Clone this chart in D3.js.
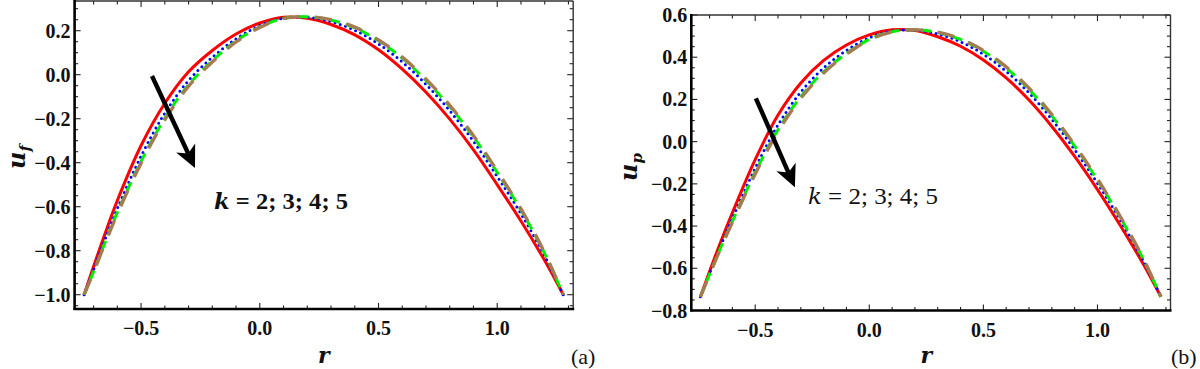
<!DOCTYPE html>
<html>
<head>
<meta charset="utf-8">
<script src="https://cdn.jsdelivr.net/npm/d3@7"></script>
<style>
  html, body { margin: 0; padding: 0; background: #fff; }
  svg { display: block; }
  .serif { font-family: "Liberation Serif", "Times New Roman", Tinos, serif; }
  .ital { font-family: "DejaVu Serif", serif; font-style: italic; }
</style>
</head>
<body>
<svg id="chart" width="1200" height="369"></svg>
<script>
// ---------------- data ----------------
const rValues = [-0.74, -0.7, -0.65, -0.6, -0.5, -0.4, -0.3, -0.2, -0.1, 0.0, 0.1, 0.2, 0.3, 0.4, 0.5, 0.6, 0.7, 0.8, 0.9, 1.0, 1.1, 1.2, 1.278];

// panel (a): u_f
const uf_k2 = [-1.0, -0.872, -0.717, -0.572, -0.322, -0.13, 0.013, 0.11, 0.185, 0.235, 0.261, 0.256, 0.228, 0.181, 0.113, 0.025, -0.08, -0.202, -0.342, -0.5, -0.665, -0.845, -1.0];
const uf_k3 = [-1.0, -0.887, -0.744, -0.608, -0.37, -0.175, -0.026, 0.079, 0.163, 0.223, 0.257, 0.261, 0.241, 0.202, 0.14, 0.058, -0.044, -0.164, -0.303, -0.463, -0.632, -0.824, -1.0];
const uf_k4 = [-1.0, -0.895, -0.758, -0.626, -0.394, -0.198, -0.046, 0.063, 0.153, 0.217, 0.256, 0.263, 0.248, 0.213, 0.154, 0.075, -0.026, -0.145, -0.283, -0.444, -0.615, -0.813, -1.0];
const uf_k5 = [-1.0, -0.897, -0.762, -0.632, -0.402, -0.205, -0.052, 0.058, 0.149, 0.215, 0.255, 0.264, 0.25, 0.216, 0.158, 0.08, -0.02, -0.139, -0.277, -0.438, -0.61, -0.81, -1.0];

// panel (b): u_p
const up_k2 = [-0.735, -0.615, -0.472, -0.337, -0.085, 0.126, 0.278, 0.385, 0.458, 0.506, 0.530, 0.526, 0.497, 0.452, 0.387, 0.302, 0.197, 0.072, -0.07, -0.227, -0.397, -0.579, -0.735];
const up_k3 = [-0.735, -0.624, -0.49, -0.364, -0.126, 0.079, 0.235, 0.349, 0.432, 0.492, 0.524, 0.528, 0.51, 0.473, 0.414, 0.333, 0.231, 0.106, -0.038, -0.197, -0.372, -0.563, -0.735];
const up_k4 = [-0.735, -0.629, -0.499, -0.378, -0.146, 0.056, 0.213, 0.331, 0.418, 0.484, 0.521, 0.53, 0.517, 0.484, 0.428, 0.349, 0.247, 0.122, -0.021, -0.182, -0.359, -0.555, -0.735];
const up_k5 = [-0.735, -0.63, -0.502, -0.382, -0.153, 0.048, 0.206, 0.325, 0.414, 0.482, 0.52, 0.53, 0.519, 0.487, 0.432, 0.354, 0.253, 0.128, -0.016, -0.177, -0.355, -0.552, -0.735];

const kLabels = ["k = 2", "k = 3", "k = 4", "k = 5"];
const xTicksMajor = [-0.5, 0.0, 0.5, 1.0];
const yTicksA = [-1.0, -0.8, -0.6, -0.4, -0.2, 0.0, 0.2];
const yTicksB = [-0.8, -0.6, -0.4, -0.2, 0.0, 0.2, 0.4, 0.6];

// arrow annotations (data units) and label text
const arrowA = [[-0.454, -0.006], [-0.273, -0.424]];
const arrowB = [[-0.497, 0.205], [-0.326, -0.216]];
const annotationText = "k = 2; 3; 4; 5";

// ---------------- styles ----------------
const seriesStyles = [
  { color: "#ff0000", width: 3.0, dash: null, cap: "butt" },
  { color: "#0000ff", width: 3.0, dash: "0,5.5", cap: "round" },
  { color: "#00ee00", width: 3.0, dash: "10,6", cap: "butt" },
  { color: "#a57c52", width: 3.4, dash: "17,15", cap: "butt" }
];

const svg = d3.select("#chart");
const fmt = v => d3.format(".1f")(v).replace("-", "\u2212");

function drawPanel(cfg) {
  const g = svg.append("g").attr("class", "serif");
  const x = d3.scaleLinear().domain(cfg.xDomain).range([cfg.left, cfg.right]);
  const y = d3.scaleLinear().domain(cfg.yDomain).range([cfg.bottom, cfg.top]);

  const clipId = "clip" + cfg.id;
  svg.append("defs").append("clipPath").attr("id", clipId)
    .append("rect").attr("x", cfg.left).attr("y", cfg.top)
    .attr("width", cfg.right - cfg.left).attr("height", cfg.bottom - cfg.top);

  const line = d3.line()
    .x(d => x(d[0])).y(d => y(d[1]))
    .curve(d3.curveCatmullRom.alpha(0.5));
  const curves = g.append("g").attr("clip-path", `url(#${clipId})`);
  cfg.series.forEach((vals, i) => {
    const st = seriesStyles[i];
    curves.append("path")
      .datum(rValues.map((r, j) => [r, vals[j]]))
      .attr("fill", "none")
      .attr("stroke", st.color)
      .attr("stroke-width", st.width)
      .attr("stroke-linecap", st.cap)
      .attr("stroke-linejoin", "round")
      .attr("stroke-dasharray", st.dash)
      .attr("d", line)
      .append("title").text(kLabels[i]);
  });

  // ticks (inside, mirrored)
  const xMinor = d3.range(-0.7, 1.31, 0.1).map(v => Math.round(v * 10) / 10);
  const yMinor = d3.range(Math.ceil(cfg.yDomain[0] / 0.05) * 0.05, cfg.yDomain[1] + 1e-9, 0.05).map(v => Math.round(v * 100) / 100);
  const tk = g.append("g").attr("stroke", "#222").attr("stroke-width", 1.1);
  const isMajorX = v => xTicksMajor.some(t => Math.abs(t - v) < 1e-6);
  const isMajorY = v => cfg.yTicks.some(t => Math.abs(t - v) < 1e-6);
  xMinor.forEach(v => {
    const L = isMajorX(v) ? 6 : 3.5;
    tk.append("line").attr("x1", x(v)).attr("x2", x(v)).attr("y1", cfg.bottom).attr("y2", cfg.bottom - L);
    tk.append("line").attr("x1", x(v)).attr("x2", x(v)).attr("y1", cfg.top).attr("y2", cfg.top + L);
  });
  yMinor.forEach(v => {
    const L = isMajorY(v) ? 6 : 3.5;
    tk.append("line").attr("y1", y(v)).attr("y2", y(v)).attr("x1", cfg.left).attr("x2", cfg.left + L);
    tk.append("line").attr("y1", y(v)).attr("y2", y(v)).attr("x1", cfg.right).attr("x2", cfg.right - L);
  });

  // frame
  g.append("line").attr("x1", cfg.left).attr("x2", cfg.right).attr("y1", cfg.top).attr("y2", cfg.top)
    .attr("stroke", "#333").attr("stroke-width", 1.4);
  g.append("line").attr("x1", cfg.right).attr("x2", cfg.right).attr("y1", cfg.top).attr("y2", cfg.bottom)
    .attr("stroke", "#333").attr("stroke-width", 1.4);
  g.append("line").attr("x1", cfg.left).attr("x2", cfg.left).attr("y1", cfg.top - 1).attr("y2", cfg.bottom + 1)
    .attr("stroke", "#000").attr("stroke-width", 2.6);
  g.append("line").attr("x1", cfg.left - 1).attr("x2", cfg.right + 1).attr("y1", cfg.bottom).attr("y2", cfg.bottom)
    .attr("stroke", "#000").attr("stroke-width", 2.6);

  // tick labels
  const lab = g.append("g").attr("font-weight", "bold")
    .attr("font-size", 20).attr("fill", "#111");
  xTicksMajor.forEach(v => {
    lab.append("text").attr("x", x(v)).attr("y", cfg.bottom + 26)
      .attr("text-anchor", "middle").text(fmt(v));
  });
  cfg.yTicks.forEach(v => {
    lab.append("text").attr("x", cfg.left - 4).attr("y", y(v) + 7)
      .attr("text-anchor", "end").text(fmt(v));
  });

  // axis titles
  g.append("text").attr("class", "ital").attr("x", x(cfg.xTitleAt)).attr("y", 363)
    .attr("text-anchor", "middle")
    .attr("font-weight", "bold").attr("font-size", 22)
    .attr("fill", "#111").text("r");
  const yt = g.append("text").attr("class", "ital")
    .attr("transform", `translate(${cfg.yTitleX},${cfg.yTitleY}) rotate(-90)`)
    .attr("text-anchor", "middle")
    .attr("font-weight", "bold").attr("fill", "#111");
  yt.append("tspan").attr("font-size", 24).text("u");
  yt.append("tspan").attr("font-size", 15).attr("dy", 5).text(cfg.sub);

  // panel tag
  g.append("text").attr("x", cfg.tagX).attr("y", 364)
    .attr("font-size", 22).attr("fill", "#111").text(cfg.tag);

  // arrow
  const [p0, p1] = cfg.arrow.map(p => [x(p[0]), y(p[1])]);
  const dx = p1[0] - p0[0], dy = p1[1] - p0[1];
  const len = Math.hypot(dx, dy), ux = dx / len, uy = dy / len, nx = -uy, ny = ux;
  const headL = 22, headW = 10.5, notch = 16;
  const base = [p1[0] - ux * headL, p1[1] - uy * headL];
  const shaftEnd = [p1[0] - ux * notch, p1[1] - uy * notch];
  g.append("line").attr("x1", p0[0]).attr("y1", p0[1]).attr("x2", shaftEnd[0]).attr("y2", shaftEnd[1])
    .attr("stroke", "#000").attr("stroke-width", 4.4);
  g.append("path").attr("fill", "#000")
    .attr("d", d3.line()([
      p1,
      [base[0] + nx * headW, base[1] + ny * headW],
      shaftEnd,
      [base[0] - nx * headW, base[1] - ny * headW]
    ]) + "Z");

  // annotation
  g.append("text").attr("x", cfg.noteX).attr("y", cfg.noteY)
    .attr("font-size", 24)
    .attr("font-weight", cfg.noteWeight).attr("fill", "#111")
    .attr("textLength", cfg.noteLen).attr("lengthAdjust", "spacingAndGlyphs")
    .call(t => {
      t.append("tspan").attr("class", "ital").attr("font-size", 22).text("k");
      t.append("tspan").text(annotationText.slice(1));
    });
}

drawPanel({
  id: "a", left: 74.6, right: 573.2, top: 1, bottom: 309,
  xDomain: [-0.78, 1.32], yDomain: [-1.065, 0.335],
  yTicks: yTicksA, series: [uf_k2, uf_k3, uf_k4, uf_k5],
  sub: "f", yTitleX: 25, yTitleY: 157, xTitleAt: 0.27,
  tag: "(a)", tagX: 571, arrow: arrowA,
  noteX: 214, noteY: 209, noteLen: 134, noteWeight: "bold"
});

drawPanel({
  id: "b", left: 691.3, right: 1170.5, top: 15, bottom: 310.5,
  xDomain: [-0.78, 1.32], yDomain: [-0.8, 0.6],
  yTicks: yTicksB, series: [up_k2, up_k3, up_k4, up_k5],
  sub: "p", yTitleX: 637, yTitleY: 167, xTitleAt: 0.25,
  tag: "(b)", tagX: 1171, arrow: arrowB,
  noteX: 808, noteY: 204, noteLen: 130, noteWeight: "normal"
});
</script>
</body>
</html>
